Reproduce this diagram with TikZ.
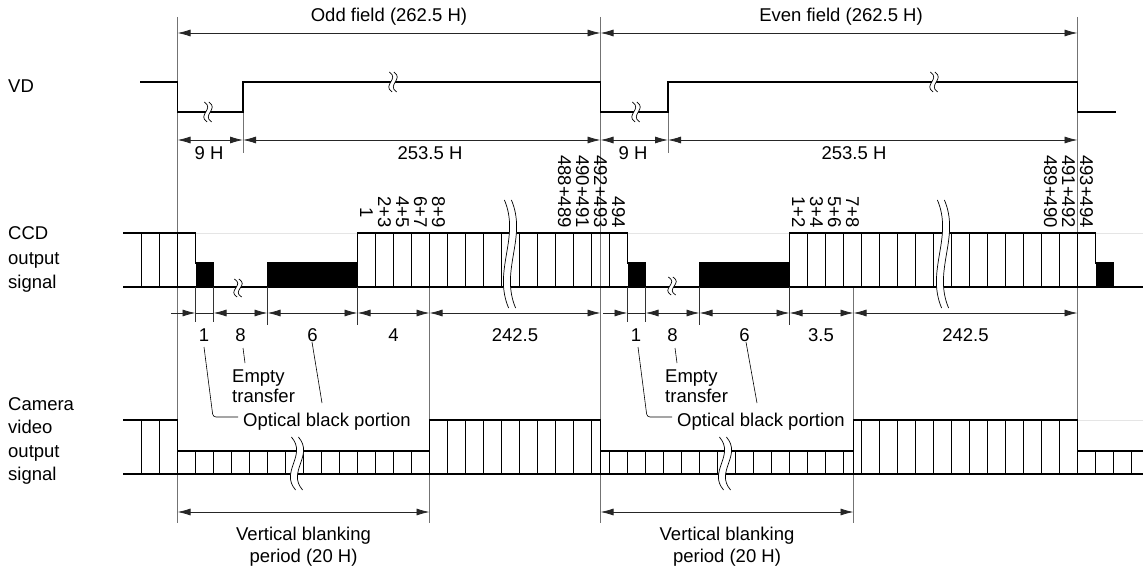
\documentclass[tikz,border=0pt]{standalone}
\usepackage{fontspec}
\setmainfont{Liberation Sans}
\usetikzlibrary{arrows.meta}
\tikzset{
  sig/.style={line width=1.7pt, line join=miter},
  cell/.style={line width=1.5pt},
  fieldln/.style={line width=0.9pt, black!55},
  tickln/.style={line width=0.8pt, black!80},
  faint/.style={line width=0.8pt, black!10},
  dimln/.style={line width=0.8pt, black!85},
  dimarr/.style={dimln, {Latex[length=13pt,width=7pt]}-{Latex[length=13pt,width=7pt]}},
  dimr/.style={dimln, -{Latex[length=13pt,width=7pt]}},
  lbl/.style={font=\fontsize{18.5}{22}\selectfont, inner sep=0pt},
  rlbl/.style={lbl, rotate=-90, anchor=east},
  leader/.style={line width=0.6pt},
  brk/.pic={
    \fill[white] (-0.8,-1) .. controls (1.5,-0.3) and (-2.5,0.3) .. (-0.2,1) -- (0.8,1) .. controls (-1.5,0.3) and (2.5,-0.3) .. (0.2,-1) -- cycle;
    \draw[line width=0.7pt] (-0.8,-1) .. controls (1.5,-0.3) and (-2.5,0.3) .. (-0.2,1);
    \draw[line width=0.7pt] (0.2,-1) .. controls (2.5,-0.3) and (-1.5,0.3) .. (0.8,1);
  }
}
\begin{document}
\begin{tikzpicture}[x=1pt,y=-1pt]
\useasboundingbox (0,0) rectangle (1143,572);

% ---------- field / guide lines ----------
\draw[fieldln] (177.5,17) -- (177.5,523);
\draw[fieldln] (600.5,17) -- (600.5,523);
\draw[fieldln] (1077.5,17) -- (1077.5,474);
\draw[fieldln] (243,112) -- (243,153);
\draw[fieldln] (668,112) -- (668,153);
\draw[fieldln] (429.5,287) -- (429.5,523);
\draw[fieldln] (853.5,287) -- (853.5,523);

% faint level lines
\draw[faint] (195.5,233) -- (357.5,233);
\draw[faint] (627.5,233) -- (789.5,233);
\draw[faint] (1095.5,233) -- (1143,233);
\draw[faint] (1077.5,420) -- (1143,420);

% ---------- VD ----------
\draw[sig] (140,82) -- (177.5,82) -- (177.5,112) -- (243,112) -- (243,82) -- (600.5,82) -- (600.5,112) -- (668,112) -- (668,82) -- (1077.5,82) -- (1077.5,112) -- (1116,112);
\pic[xscale=4.5,yscale=10] at (208,112) {brk};
\pic[xscale=4.5,yscale=10] at (393,82) {brk};
\pic[xscale=4.5,yscale=10] at (636,112) {brk};
\pic[xscale=4.5,yscale=10] at (934,82) {brk};

% ---------- CCD output signal ----------
\foreach \k in {-2,-1,0} \draw[cell] ({177.5+18*\k},233) -- ({177.5+18*\k},287);
\foreach \k in {11,...,24} \draw[cell] ({177.5+18*\k},233) -- ({177.5+18*\k},287);
\foreach \k in {35,...,50} \draw[cell] ({177.5+18*\k},233) -- ({177.5+18*\k},287);
\fill (195.5,263) rectangle (213.5,287);
\fill (267.5,263) rectangle (357.5,287);
\fill (627.5,263) rectangle (645.5,287);
\fill (699.5,263) rectangle (789.5,287);
\fill (1095.5,263) rectangle (1113.5,287);
\draw[sig] (123,233) -- (195.5,233) -- (195.5,263) -- (213.5,263) -- (213.5,287);
\draw[sig] (267.5,287) -- (267.5,263) -- (357.5,263) -- (357.5,233) -- (627.5,233) -- (627.5,263) -- (645.5,263) -- (645.5,287);
\draw[sig] (699.5,287) -- (699.5,263) -- (789.5,263) -- (789.5,233) -- (1095.5,233) -- (1095.5,263) -- (1113.5,263) -- (1113.5,287);
\draw[sig] (123,287) -- (1143,287);
\pic[xscale=7,yscale=54] at (510,254) {brk};
\pic[xscale=7,yscale=54] at (943,254) {brk};
\pic[xscale=4.5,yscale=9] at (238,288) {brk};
\pic[xscale=4.5,yscale=9] at (672,286) {brk};

% line numbers
\node[lbl, rotate=-90] (n1) at (366.5,213) {1};
\node[rlbl] (n23) at (384.5,228) {2+3};
\node[rlbl] (n45) at (402.5,228) {4+5};
\node[rlbl] (n67) at (420.5,228) {6+7};
\node[rlbl] (n89) at (438.5,228) {8+9};
\node[rlbl] (n488) at (564.5,228) {488+489};
\node[rlbl] (n490) at (582.5,228) {490+491};
\node[rlbl] (n492) at (600.5,228) {492+493};
\node[rlbl] (n494) at (618.5,228) {494};
\node[rlbl] (m12) at (798.5,228) {1+2};
\node[rlbl] (m34) at (816.5,228) {3+4};
\node[rlbl] (m56) at (834.5,228) {5+6};
\node[rlbl] (m78) at (852.5,228) {7+8};
\node[rlbl] (m489) at (1050.5,228) {489+490};
\node[rlbl] (m491) at (1068.5,228) {491+492};
\node[rlbl] (m493) at (1086.5,228) {493+494};

% ---------- Camera video output signal ----------
\foreach \k in {-2,-1} \draw[cell] ({177.5+18*\k},420) -- ({177.5+18*\k},474);
\foreach \k in {14,...,23} \draw[cell] ({177.5+18*\k},420) -- ({177.5+18*\k},474);
\foreach \k in {38,...,50} \draw[cell] ({177.5+18*\k},420) -- ({177.5+18*\k},474);
\foreach \k in {0,...,13} \draw[cell] ({177.5+18*\k},451) -- ({177.5+18*\k},474);
\foreach \k in {24,...,37} \draw[cell] ({177.5+18*\k},451) -- ({177.5+18*\k},474);
\foreach \k in {51,...,53} \draw[cell] ({177.5+18*\k},451) -- ({177.5+18*\k},474);
\draw[cell] (600.5,420) -- (600.5,474);
\draw[cell] (853.5,420) -- (853.5,474);
\draw[sig] (123,420) -- (177.5,420) -- (177.5,451) -- (429.5,451) -- (429.5,420) -- (600.5,420) -- (600.5,451) -- (853.5,451) -- (853.5,420) -- (1077.5,420) -- (1077.5,451) -- (1143,451);
\draw[sig] (123,474) -- (1143,474);
\pic[xscale=7,yscale=26.5] at (297,463.5) {brk};
\pic[xscale=7,yscale=26.5] at (725,463.5) {brk};

% ---------- dimension arrows ----------
\draw[dimarr] (177.5,33) -- (600.5,33);
\draw[dimarr] (600.5,33) -- (1077.5,33);
\draw[dimarr] (177.5,140) -- (243,140);
\draw[dimarr] (243,140) -- (600.5,140);
\draw[dimarr] (600.5,140) -- (668,140);
\draw[dimarr] (668,140) -- (1077.5,140);

% ticks under CCD
\foreach \x in {195.5,213.5,627.5,645.5} \draw[tickln] (\x,287) -- (\x,322);
\foreach \x in {267.5,357.5,699.5,789.5} \draw[tickln] (\x,287) -- (\x,325);
\draw[dimr] (171,313) -- (195.5,313);
\draw[dimln] (195.5,313) -- (213.5,313);
\draw[dimarr] (213.5,313) -- (267.5,313);
\draw[dimarr] (267.5,313) -- (357.5,313);
\draw[dimarr] (357.5,313) -- (429.5,313);
\draw[dimarr] (429.5,313) -- (600.5,313);
\draw[dimr] (603,313) -- (627.5,313);
\draw[dimln] (627.5,313) -- (645.5,313);
\draw[dimarr] (645.5,313) -- (699.5,313);
\draw[dimarr] (699.5,313) -- (789.5,313);
\draw[dimarr] (789.5,313) -- (853.5,313);
\draw[dimarr] (853.5,313) -- (1077.5,313);

\draw[dimarr] (177.5,512) -- (429.5,512);
\draw[dimarr] (600.5,512) -- (853.5,512);

% ---------- texts ----------
\node[lbl, anchor=base] (odd) at (389,22) {Odd field (262.5 H)};
\node[lbl, anchor=base] (even) at (841,22) {Even field (262.5 H)};
\node[lbl, anchor=base] (h9a) at (209,160) {9 H};
\node[lbl, anchor=base] (h253a) at (430,160) {253.5 H};
\node[lbl, anchor=base] (h9b) at (633,160) {9 H};
\node[lbl, anchor=base] (h253b) at (854,160) {253.5 H};

\node[lbl, anchor=base west] (vd) at (8,93) {VD};
\node[lbl, anchor=base west] (ccd1) at (8,240) {CCD};
\node[lbl, anchor=base west] (ccd2) at (8,264) {output};
\node[lbl, anchor=base west] (ccd3) at (8,288) {signal};
\node[lbl, anchor=base west] (cam1) at (8,410) {Camera};
\node[lbl, anchor=base west] (cam2) at (8,433.5) {video};
\node[lbl, anchor=base west] (cam3) at (8,457) {output};
\node[lbl, anchor=base west] (cam4) at (8,480.5) {signal};

\node[lbl, anchor=base] (d1a) at (204,341) {1};
\node[lbl, anchor=base] (d8a) at (240.5,341) {8};
\node[lbl, anchor=base] (d6a) at (312.5,341) {6};
\node[lbl, anchor=base] (d4a) at (393.5,341) {4};
\node[lbl, anchor=base] (d242a) at (515,341) {242.5};
\node[lbl, anchor=base] (d1b) at (636,341) {1};
\node[lbl, anchor=base] (d8b) at (672.5,341) {8};
\node[lbl, anchor=base] (d6b) at (744.5,341) {6};
\node[lbl, anchor=base] (d35b) at (821,341) {3.5};
\node[lbl, anchor=base] (d242b) at (965.5,341) {242.5};

\node[lbl, anchor=base west] (eta) at (232,382) {Empty};
\node[lbl, anchor=base west] (etb) at (232,402) {transfer};
\node[lbl, anchor=base west] (oba) at (243,426) {Optical black portion};
\node[lbl, anchor=base west] (etc) at (665,382) {Empty};
\node[lbl, anchor=base west] (etd) at (665,402) {transfer};
\node[lbl, anchor=base west] (obb) at (677,426) {Optical black portion};

\draw[leader] (243,348) -- (245,363);
\draw[leader, rounded corners=3pt] (204,347) -- (213,417) -- (238,417);
\draw[leader] (312,342) -- (322,403);
\draw[leader] (675,348) -- (677,363);
\draw[leader, rounded corners=3pt] (638,347) -- (647,417) -- (672,417);
\draw[leader] (746,342) -- (757,403);

\node[lbl, anchor=base] (vba) at (303.5,540) {Vertical blanking};
\node[lbl, anchor=base] (vbb) at (303.5,562) {period (20 H)};
\node[lbl, anchor=base] (vbc) at (727,540) {Vertical blanking};
\node[lbl, anchor=base] (vbd) at (727,562) {period (20 H)};
\end{tikzpicture}
\end{document}
